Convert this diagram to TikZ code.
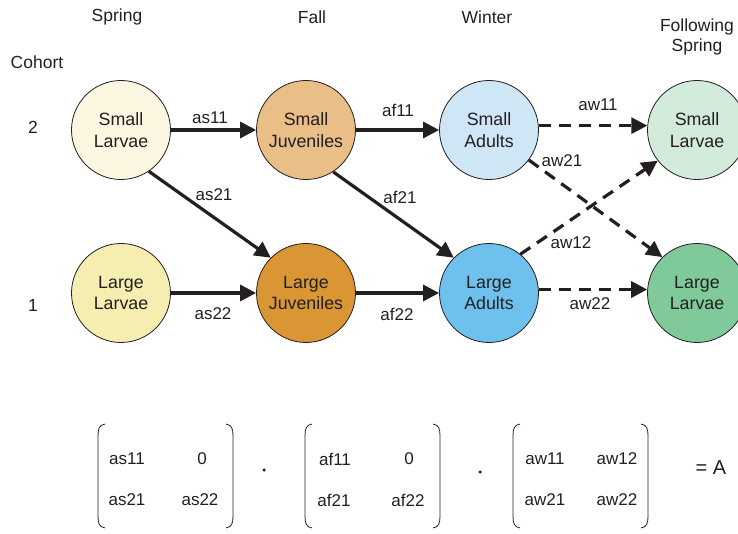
\documentclass[tikz,border=0pt]{standalone}
\usepackage{fontspec}
\setmainfont{Liberation Sans}
\usetikzlibrary{arrows.meta}
\definecolor{cSL}{HTML}{FBF7E1}
\definecolor{cLL}{HTML}{F5EEB0}
\definecolor{cSJ}{HTML}{E9BE87}
\definecolor{cLJ}{HTML}{DA9535}
\definecolor{cSA}{HTML}{CFE6F7}
\definecolor{cLA}{HTML}{6EC1EC}
\definecolor{cSF}{HTML}{D3EBDA}
\definecolor{cLF}{HTML}{80C99B}
\definecolor{ink}{HTML}{231F20}
\begin{document}
\begin{tikzpicture}[x=1pt,y=-1pt,
  stage/.style={circle,draw=ink,line width=0.8pt,minimum size=99pt,inner sep=0pt,align=center,font=\fontsize{17.8}{21.5}\selectfont,text=ink},
  lbl/.style={font=\fontsize{17}{20}\selectfont,text=ink,inner sep=0pt},
  hdr/.style={font=\fontsize{17.5}{20}\selectfont,text=ink,inner sep=0pt,align=center},
  flow/.style={line width=3.2pt,draw=ink,-{Triangle[length=16pt,width=16pt]}},
  wflow/.style={flow,dash pattern=on 12pt off 8pt},
  brk/.style={line width=0.8pt,draw=ink}
]
\useasboundingbox (0,0) rectangle (738,534);

% headers
\node[hdr] (hS) at (117,17) {Spring};
\node[hdr] (hF) at (312,17) {Fall};
\node[hdr] (hW) at (487,17) {Winter};
\node[hdr] (hFS) at (697,37) {Following\\Spring};
\node[hdr] (hC) at (37,62) {Cohort};
\node[hdr] (c2) at (33,127) {2};
\node[hdr] (c1) at (33,305) {1};

% stages
\node[stage,fill=cSL] (SL) at (121,130) {Small\\Larvae};
\node[stage,fill=cLL] (LL) at (121,293) {Large\\Larvae};
\node[stage,fill=cSJ] (SJ) at (306,130) {Small\\Juveniles};
\node[stage,fill=cLJ] (LJ) at (306,293) {Large\\Juveniles};
\node[stage,fill=cSA] (SA) at (489,130) {Small\\Adults};
\node[stage,fill=cLA] (LA) at (489,293) {Large\\Adults};
\node[stage,fill=cSF] (SF) at (697,130) {Small\\Larvae};
\node[stage,fill=cLF] (LF) at (697,293) {Large\\Larvae};

% arrows
\draw[flow] (SL) -- (SJ);
\draw[flow] (LL) -- (LJ);
\draw[flow] (SL.-56) -- (LJ.135);
\draw[flow] (SJ) -- (SA);
\draw[flow] (LJ) -- (LA);
\draw[flow] (SJ.-57) -- (LA.135);
\draw[wflow] (SA.5) -- (SF.175);
\draw[wflow] (LA.4) -- (LF.176);
\draw[wflow] (SA.-37) -- (LF.134);
\draw[wflow] (LA.51) -- (SF.-142);

% labels
\node[lbl] (las11) at (210,118) {as11};
\node[lbl] (las21) at (214,195) {as21};
\node[lbl] (las22) at (213,314) {as22};
\node[lbl] (laf11) at (398,110) {af11};
\node[lbl] (laf21) at (400,197) {af21};
\node[lbl] (laf22) at (397,314) {af22};
\node[lbl] (law11) at (598,105) {aw11};
\node[lbl] (law21) at (562,161) {aw21};
\node[lbl] (law12) at (571,243) {aw12};
\node[lbl] (law22) at (590,304) {aw22};

% matrices
\foreach \l/\r in {98/233, 305/440, 513/648}{
  \draw[brk] (\l+7,424) .. controls (\l+1,425) and (\l,429) .. (\l,436) -- (\l,516) .. controls (\l,523) and (\l+1,527) .. (\l+7,528);
  \draw[brk] (\r-7,424) .. controls (\r-1,425) and (\r,429) .. (\r,436) -- (\r,516) .. controls (\r,523) and (\r-1,527) .. (\r-7,528);
}
\node[lbl] (m111) at (127,459) {as11};
\node[lbl] (m112) at (202,459) {0};
\node[lbl] (m121) at (127,500) {as21};
\node[lbl] (m122) at (200,500) {as22};
\node[lbl] (m211) at (335,459) {af11};
\node[lbl] (m212) at (409,459) {0};
\node[lbl] (m221) at (334,500) {af21};
\node[lbl] (m222) at (408,500) {af22};
\node[lbl] (m311) at (545,459) {aw11};
\node[lbl] (m312) at (617,459) {aw12};
\node[lbl] (m321) at (545,500) {aw21};
\node[lbl] (m322) at (617,500) {aw22};
\node[circle,fill=ink,inner sep=0pt,minimum size=3.5pt] (d1) at (264,470) {};
\node[circle,fill=ink,inner sep=0pt,minimum size=3.5pt] (d2) at (480,472) {};
\node[lbl,font=\fontsize{20}{22}\selectfont] (eqA) at (711,468) {= A};
\end{tikzpicture}
\end{document}
